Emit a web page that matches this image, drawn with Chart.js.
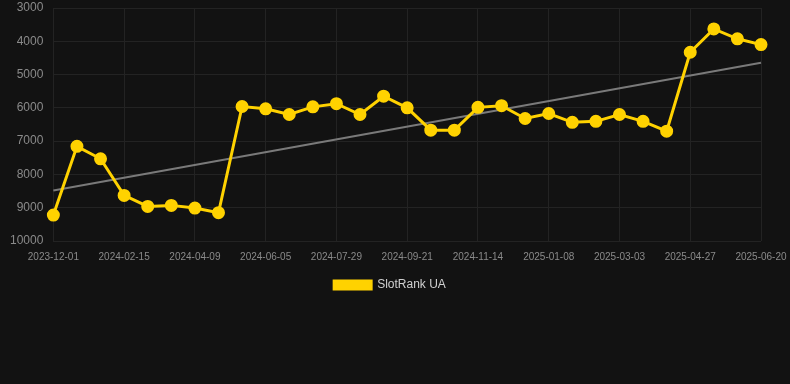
<!doctype html>
<html>
<head>
<title>SlotRank UA</title>
<script src="https://cdn.jsdelivr.net/npm/chart.js@4"></script>
<style>
  html, body { margin: 0; padding: 0; background: #121212; }
  #container { width: 790px; height: 384px; }
</style>
</head>
<body>
<div id="container">
  <canvas id="canvas"></canvas>
</div>
<script>
// dates of each rank sample
var dates = [
  '2023-12-01', '2023-12-26', '2024-01-21',
  '2024-02-15', '2024-03-03', '2024-03-21',
  '2024-04-09', '2024-04-28', '2024-05-17',
  '2024-06-05', '2024-06-23', '2024-07-11',
  '2024-07-29', '2024-08-16', '2024-09-03',
  '2024-09-21', '2024-10-09', '2024-10-27',
  '2024-11-14', '2024-12-02', '2024-12-20',
  '2025-01-08', '2025-01-26', '2025-02-13',
  '2025-03-03', '2025-03-21', '2025-04-08',
  '2025-04-27', '2025-05-15', '2025-06-02',
  '2025-06-20'
];

// rank values (lower is better, axis reversed)
var rankUA = [
  9220, 7155, 7530, 8630, 8960, 8930, 9010, 9150,
  5960, 6030, 6200, 5970, 5875, 6200, 5650, 6000,
  6670, 6670, 5985, 5935, 6320, 6170, 6435, 6405,
  6200, 6405, 6700, 4330, 3630, 3925, 4100
];

// trend line, first and last value
var trendEnds = [8485, 4645];

var yTicks = [3000, 4000, 5000, 6000, 7000, 8000, 9000, 10000];

var trendData = dates.map(function(d, i) {
  if (i == 0) return trendEnds[0];
  if (i == dates.length - 1) return trendEnds[1];
  return null;
});

Chart.defaults.font.family = '"Liberation Sans", Arial, sans-serif';

var config = {
  type: 'line',
  data: {
    labels: dates,
    datasets: [{
      label: 'SlotRank UA',
      data: rankUA,
      borderColor: '#ffd200',
      backgroundColor: '#ffd200',
      pointBackgroundColor: '#ffd200',
      pointBorderColor: '#ffd200',
      borderWidth: 3,
      pointRadius: 5,
      tension: 0
    }, {
      label: 'trend',
      data: trendData,
      spanGaps: true,
      borderColor: '#7a7a7a',
      borderWidth: 2,
      pointRadius: 0,
      tension: 0
    }]
  },
  options: {
    responsive: true,
    maintainAspectRatio: false,
    animation: false,
    layout: {
      padding: { left: 0, right: 10, top: 4, bottom: 83 }
    },
    plugins: {
      legend: {
        position: 'bottom',
        labels: {
          color: '#d0d0d0',
          font: { size: 12 },
          boxWidth: 37,
          boxHeight: 8,
          padding: 6,
          filter: function(item) { return item.text != 'trend'; }
        }
      },
      tooltip: { enabled: false }
    },
    scales: {
      x: {
        grid: { color: '#232323', drawTicks: false },
        border: { display: false },
        afterFit: function(axis) {
          axis.paddingLeft = 0;
          axis.paddingRight = 29;
        },
        ticks: {
          color: '#8a8a8a',
          font: { size: 10 },
          autoSkip: false,
          maxRotation: 0,
          padding: 10,
          callback: function(value, index) {
            return index % 3 == 0 ? dates[index] : null;
          }
        }
      },
      y: {
        reverse: true,
        min: 3000,
        max: 10000,
        afterBuildTicks: function(axis) {
          axis.ticks = yTicks.map(function(v) { return { value: v }; });
        },
        afterFit: function(axis) {
          axis.paddingTop = 0;
          axis.paddingBottom = 0;
        },
        grid: { color: '#232323', drawTicks: false },
        border: { display: false },
        ticks: {
          color: '#8a8a8a',
          font: { size: 12 },
          padding: 10,
          callback: function(value) { return String(value); }
        }
      }
    }
  }
};

window.myChart = new Chart(document.getElementById('canvas'), config);
</script>
</body>
</html>
